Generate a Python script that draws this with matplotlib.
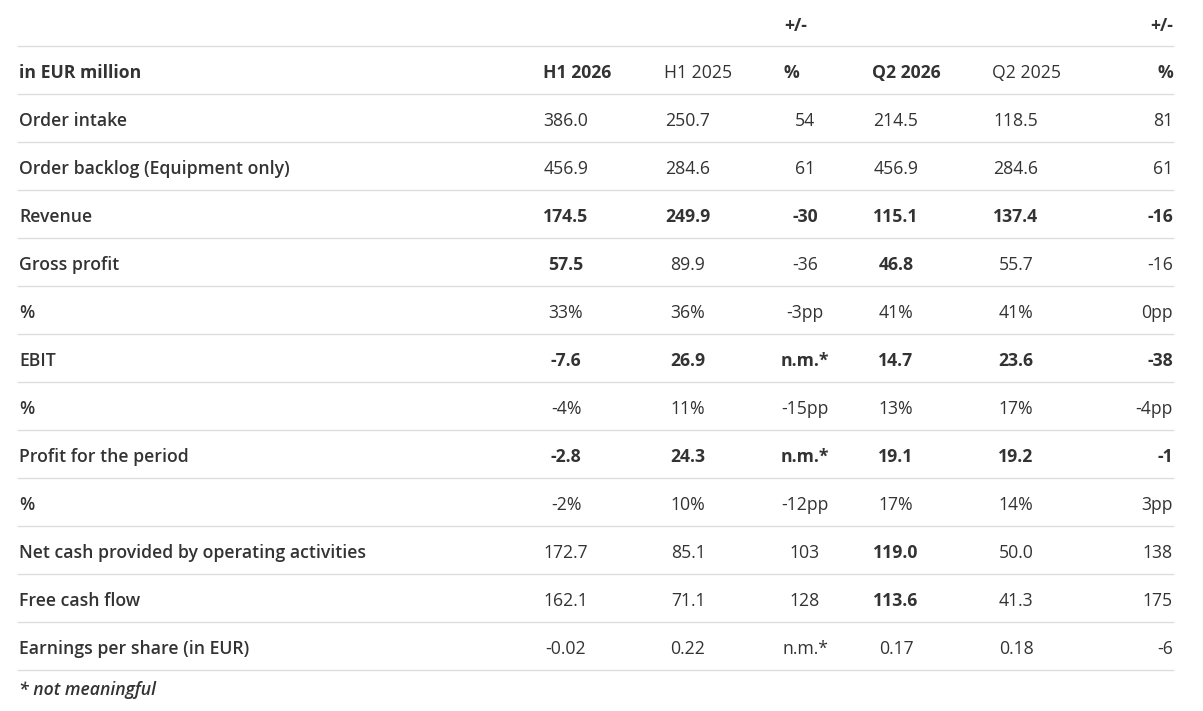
import matplotlib
matplotlib.use("Agg")
import matplotlib.pyplot as plt

labels = ["Order intake", "Order backlog (Equipment only)", "Revenue", "Gross profit", "%",
          "EBIT", "%", "Profit for the period", "%", "Net cash provided by operating activities",
          "Free cash flow", "Earnings per share (in EUR)"]
h1_2026 = ["386.0", "456.9", "174.5", "57.5", "33%", "-7.6", "-4%", "-2.8", "-2%", "172.7", "162.1", "-0.02"]
h1_2025 = ["250.7", "284.6", "249.9", "89.9", "36%", "26.9", "11%", "24.3", "10%", "85.1", "71.1", "0.22"]
h1_chg = ["54", "61", "-30", "-36", "-3pp", "n.m.*", "-15pp", "n.m.*", "-12pp", "103", "128", "n.m.*"]
q2_2026 = ["214.5", "456.9", "115.1", "46.8", "41%", "14.7", "13%", "19.1", "17%", "119.0", "113.6", "0.17"]
q2_2025 = ["118.5", "284.6", "137.4", "55.7", "41%", "23.6", "17%", "19.2", "14%", "50.0", "41.3", "0.18"]
q2_chg = ["81", "61", "-16", "-16", "0pp", "-38", "-4pp", "-1", "3pp", "138", "175", "-6"]
bold_rows = {"Revenue", "EBIT", "Profit for the period"}
bold_q2 = {"Gross profit", "Net cash provided by operating activities", "Free cash flow"}

W, H = 1203, 711
fig = plt.figure(figsize=(W / 100, H / 100), dpi=100)
ax = fig.add_axes([0, 0, 1, 1])
ax.set_xlim(0, W)
ax.set_ylim(H, 0)
ax.axis("off")

plt.rcParams["font.family"] = ["Open Sans", "DejaVu Sans"]
fs = 12.7
col = "#333333"
line = "#dddddd"

def txt(x, y, s, w="normal", ha="left", style="normal"):
    ax.text(x, y + 2, s, fontsize=fs, color=col, fontweight=w, ha=ha, va="center", fontstyle=style)

txt(784, 24, "+/-", "bold")
txt(1173, 24, "+/-", "bold", ha="right")
ax.plot([18, 1173], [46, 46], color=line, lw=1)
txt(19, 71, "in EUR million", "bold")
txt(543, 71, "H1 2026", "bold")
txt(664, 71, "H1 2025")
txt(784, 71, "%", "bold")
txt(872, 71, "Q2 2026", "bold")
txt(992, 71, "Q2 2025")
txt(1173, 71, "%", "bold", ha="right")
ax.plot([18, 1173], [94, 94], color=line, lw=1)

for i, lab in enumerate(labels):
    y = 119 + 48 * i
    allb = "bold" if lab in bold_rows else "normal"
    q2b = "bold" if (lab in bold_rows or lab in bold_q2) else "normal"
    h1b = "bold" if (lab in bold_rows or lab == "Gross profit") else "normal"
    txt(19, y, lab, "semibold")
    txt(566, y, h1_2026[i], h1b, ha="center")
    txt(688, y, h1_2025[i], allb, ha="center")
    txt(805, y, h1_chg[i], allb, ha="center")
    txt(896, y, q2_2026[i], q2b, ha="center")
    txt(1016, y, q2_2025[i], allb, ha="center")
    txt(1173, y, q2_chg[i], allb, ha="right")
    ax.plot([18, 1173], [y + 23, y + 23], color=line, lw=1)

txt(19, 688, "* not meaningful", "semibold", style="italic")
fig.savefig("out.png", dpi=100)
